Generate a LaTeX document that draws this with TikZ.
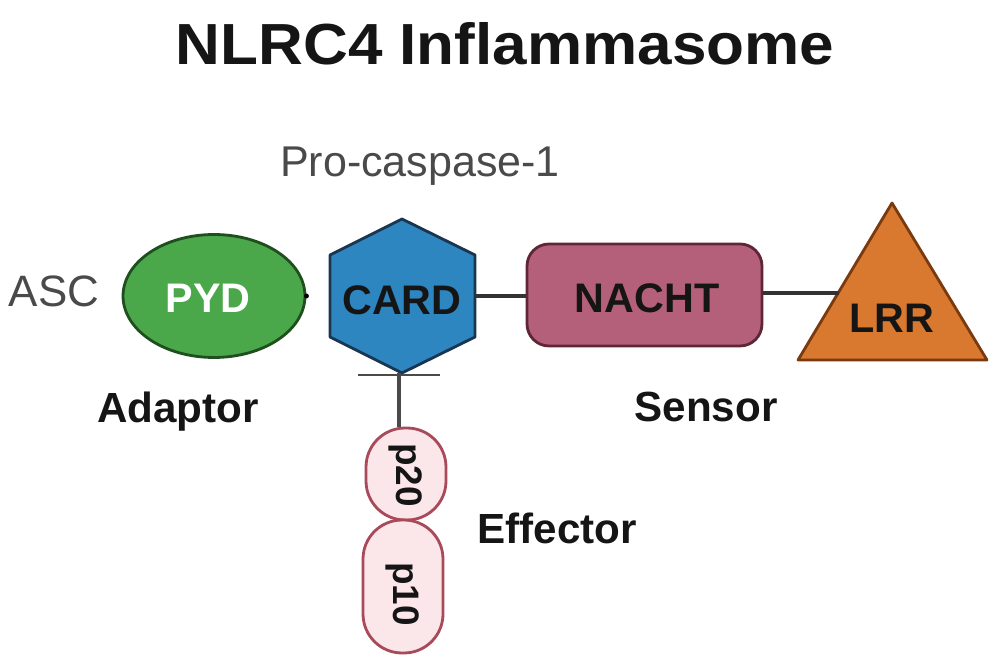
\documentclass[tikz,border=0pt]{standalone}
\usepackage{fontspec}
\setmainfont{Liberation Sans}
\usetikzlibrary{shapes.geometric}
\definecolor{pydfill}{HTML}{4AA84A}
\definecolor{pydline}{HTML}{1F4F1F}
\definecolor{cardfill}{HTML}{2E86C1}
\definecolor{cardline}{HTML}{1A3550}
\definecolor{nachtfill}{HTML}{B5607A}
\definecolor{nachtline}{HTML}{5E2636}
\definecolor{lrrfill}{HTML}{D9792F}
\definecolor{lrrline}{HTML}{7A3A10}
\definecolor{pillfill}{HTML}{FBE6EA}
\definecolor{pillline}{HTML}{A84A5A}
\definecolor{txtdark}{HTML}{151515}
\definecolor{txtgray}{HTML}{4A4A4A}
\definecolor{linkgray}{HTML}{333333}
\begin{document}
\begin{tikzpicture}[x=0.02cm,y=-0.02cm,
  lbl/.style={font=\fontsize{24}{28}\selectfont\bfseries, text=txtdark, inner sep=0pt, anchor=base},
  domtxt/.style={font=\fontsize{23.5}{28}\selectfont\bfseries, text=txtdark, inner sep=0pt},
  pill/.style={draw=pillline, line width=1.6pt, fill=pillfill, rounded corners=0.78cm, minimum width=1.6cm, inner sep=0pt},
  link/.style={draw=linkgray, line width=2.2pt}]
\useasboundingbox (0,0) rectangle (1000,671);

% title
\node[inner sep=0pt, anchor=base, font=\fontsize{33}{38}\selectfont\bfseries, text=txtdark] (title) at (505,65) {\scalebox{1.07}[1]{NLRC4 Inflammasome}};

% text labels
\node[inner sep=0pt, anchor=base, font=\fontsize{24.5}{28}\selectfont, text=txtgray] (procasp) at (420,177) {Pro-caspase-1};
\node[inner sep=0pt, anchor=base, font=\fontsize{25}{28}\selectfont, text=txtgray] (asc) at (54,307) {ASC};
\node[lbl] (adaptor) at (178,423) {Adaptor};
\node[lbl] (sensor) at (706,422) {Sensor};
\node[lbl] (effector) at (557,543) {Effector};

% PYD
\node[ellipse, draw=pydline, line width=1.6pt, fill=pydfill, minimum width=3.64cm, minimum height=2.46cm, inner sep=0pt] (pyd) at (214,296) {};
\node[domtxt, text=white, anchor=base] (pydtxt) at (208,313) {PYD};
\fill[black] (pyd.east) circle (2.5);

% CARD hexagon
\node[minimum width=2.9cm, minimum height=3.08cm, inner sep=0pt] (card) at (402,296) {};
\draw[draw=cardline, line width=1.6pt, fill=cardfill, line join=round]
  (402,219) -- (475,255) -- (475,337) -- (402,373) -- (330,337) -- (330,255) -- cycle;
\node[domtxt, anchor=base] (cardtxt) at (402,315) {CARD};

% NACHT
\node[draw=nachtline, line width=1.6pt, fill=nachtfill, rounded corners=0.44cm, minimum width=4.7cm, minimum height=2.04cm, inner sep=0pt] (nacht) at (644.5,295) {};
\node[domtxt, anchor=base] (nachttxt) at (647,313) {NACHT};

% LRR triangle
\draw[draw=lrrline, line width=1.6pt, fill=lrrfill, line join=round]
  (892,203) -- (987,360) -- (798,360) -- cycle;
\coordinate (lrrin) at (839,293);
\node[domtxt, anchor=base] (lrr) at (892,333) {LRR};

% connectors
\draw[link] (card.east) -- (card.east -| nacht.west);
\draw[draw=linkgray, line width=2.6pt] (nacht.east |- lrrin) -- (lrrin);

% pills
\node[pill, minimum height=1.84cm] (p20) at (406,474) {};
\node[pill, minimum height=2.66cm] (p10) at (403,586.5) {};
\node[domtxt, rotate=-90, font=\fontsize{21}{24}\selectfont\bfseries] (p20txt) at (406,475) {p20};
\node[domtxt, rotate=-90, font=\fontsize{21}{24}\selectfont\bfseries] (p10txt) at (403,594) {p10};

% T-bar
\coordinate (tl) at (358,375);
\coordinate (tr) at (440,375);
\draw[draw=txtgray, line width=1.2pt] (tl) -- (tr);
\draw[draw=txtgray, line width=2pt] (card.south -| p20.north) ++(-7,0) coordinate (tv) -- (tv |- p20.north);
\end{tikzpicture}
\end{document}
